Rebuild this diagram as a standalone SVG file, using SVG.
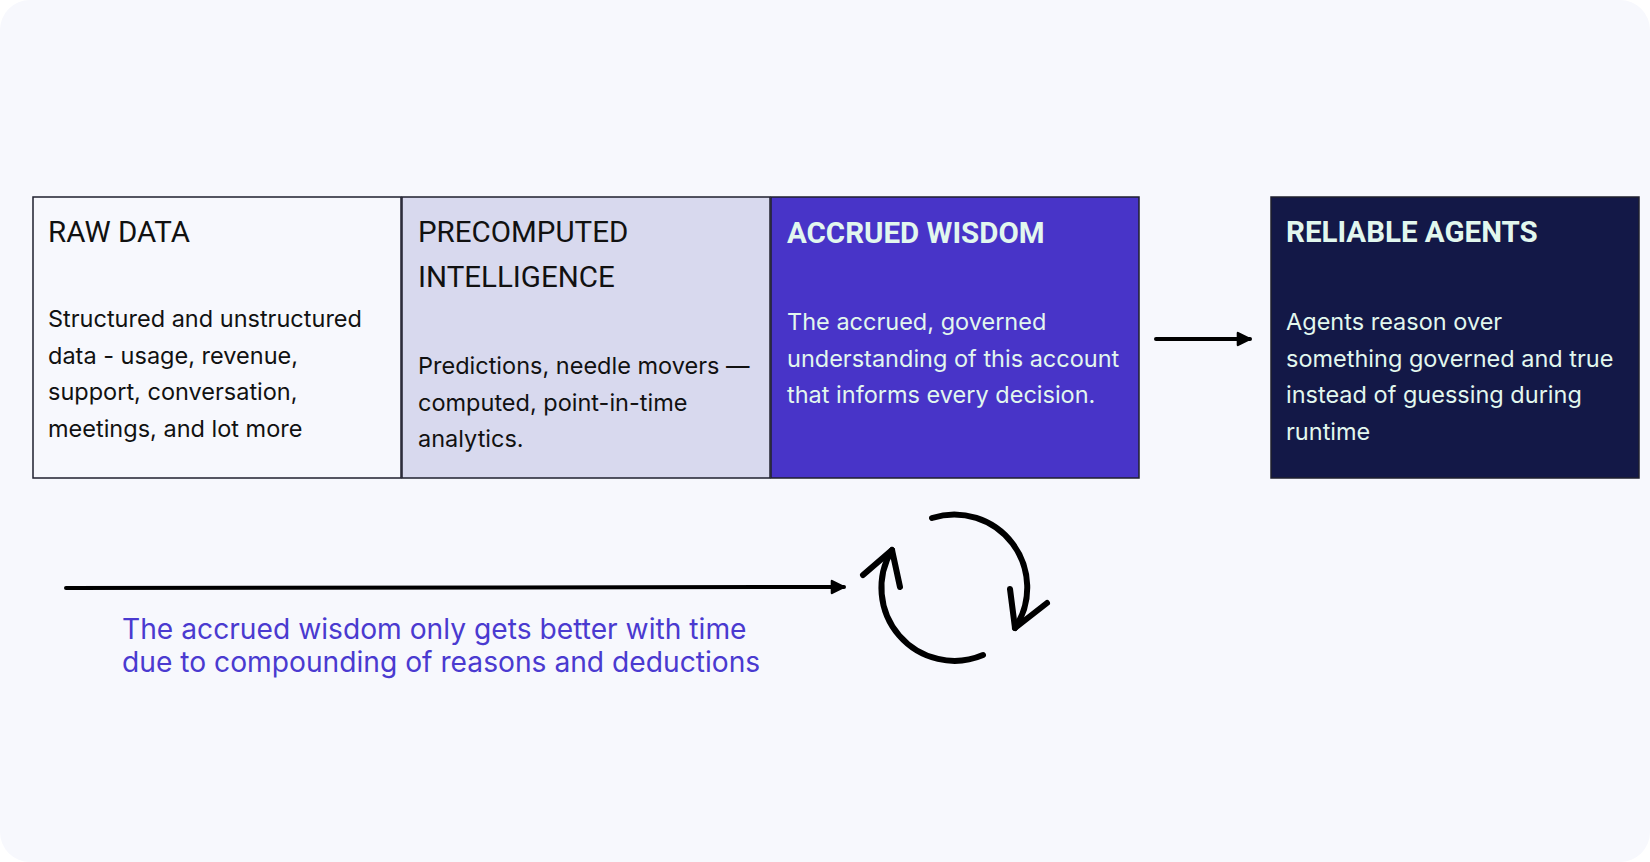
<svg xmlns="http://www.w3.org/2000/svg" width="1650" height="862" viewBox="0 0 1650 862">
<style>
.box{stroke:#1f1f2e;stroke-width:1.5}
.h{font-family:Roboto,"Liberation Sans",sans-serif;font-size:29.5px}
.hb{font-family:Roboto,"Liberation Sans",sans-serif;font-size:29.5px;font-weight:700}
.b{font-family:Inter,"Liberation Sans",sans-serif;font-size:23.5px}
.dark{fill:#111111}
.light{fill:#E2F7EE}
.cap{font-family:Inter,"Liberation Sans",sans-serif;font-size:28.2px;fill:#4A3AD0}
.ln{stroke:#000;stroke-width:4;fill:none;stroke-linecap:round}
.cyc{stroke:#000;stroke-width:6;fill:none;stroke-linecap:round;stroke-linejoin:round}
</style>
<defs>
<marker id="ah" viewBox="0 0 10 10" refX="9" refY="5" markerWidth="3.8" markerHeight="3.8" orient="auto" markerUnits="strokeWidth">
<path d="M1,1 L9,5 L1,9 Z" fill="#000" stroke="#000" stroke-width="1.5" stroke-linejoin="round"/>
</marker>
</defs>
<rect x="0" y="0" width="1650" height="862" fill="#ffffff"/>
<rect x="0" y="0" width="1650" height="862" rx="30" fill="#F7F8FD"/>

<g id="raw-data">
<rect class="box" x="33" y="197" width="368" height="281" fill="#F7F8FD"/>
<text class="h dark" x="48" y="242">RAW DATA</text>
<text class="b dark" x="48" y="327">Structured and unstructured</text>
<text class="b dark" x="48" y="364">data - usage, revenue,</text>
<text class="b dark" x="48" y="400">support, conversation,</text>
<text class="b dark" x="48" y="437">meetings, and lot more</text>
</g>

<g id="precomputed-intelligence">
<rect class="box" x="402" y="197" width="368" height="281" fill="#D8D9EE"/>
<text class="h dark" x="418" y="242">PRECOMPUTED</text>
<text class="h dark" x="418" y="287">INTELLIGENCE</text>
<text class="b dark" x="418" y="374">Predictions, needle movers —</text>
<text class="b dark" x="418" y="411">computed, point-in-time</text>
<text class="b dark" x="418" y="447">analytics.</text>
</g>

<g id="accrued-wisdom">
<rect class="box" x="771" y="197" width="368" height="281" fill="#4834C8"/>
<text class="hb light" x="787" y="243">ACCRUED WISDOM</text>
<text class="b light" x="787" y="330">The accrued, governed</text>
<text class="b light" x="787" y="367">understanding of this account</text>
<text class="b light" x="787" y="403">that informs every decision.</text>
</g>

<g id="reliable-agents">
<rect class="box" x="1271" y="197" width="368" height="281" fill="#131847"/>
<text class="hb light" x="1286" y="242">RELIABLE AGENTS</text>
<text class="b light" x="1286" y="330">Agents reason over</text>
<text class="b light" x="1286" y="367">something governed and true</text>
<text class="b light" x="1286" y="403">instead of guessing during</text>
<text class="b light" x="1286" y="440">runtime</text>
</g>

<g id="connectors">
<line class="ln" x1="1156" y1="339" x2="1250" y2="339" marker-end="url(#ah)"/>
<line class="ln" x1="66" y1="588" x2="844" y2="587" marker-end="url(#ah)"/>
<path class="cyc" d="M932,518 A73,73 0 0 1 1015,628"/>
<path class="cyc" d="M1010,589 L1015,628 L1047,603"/>
<path class="cyc" d="M983,655 A73,73 0 0 1 892,550"/>
<path class="cyc" d="M863,575 L892,550 L900,587"/>
</g>

<g id="caption">
<text class="cap" x="122" y="639">The accrued wisdom only gets better with time</text>
<text class="cap" x="122" y="672">due to compounding of reasons and deductions</text>
</g>
</svg>
